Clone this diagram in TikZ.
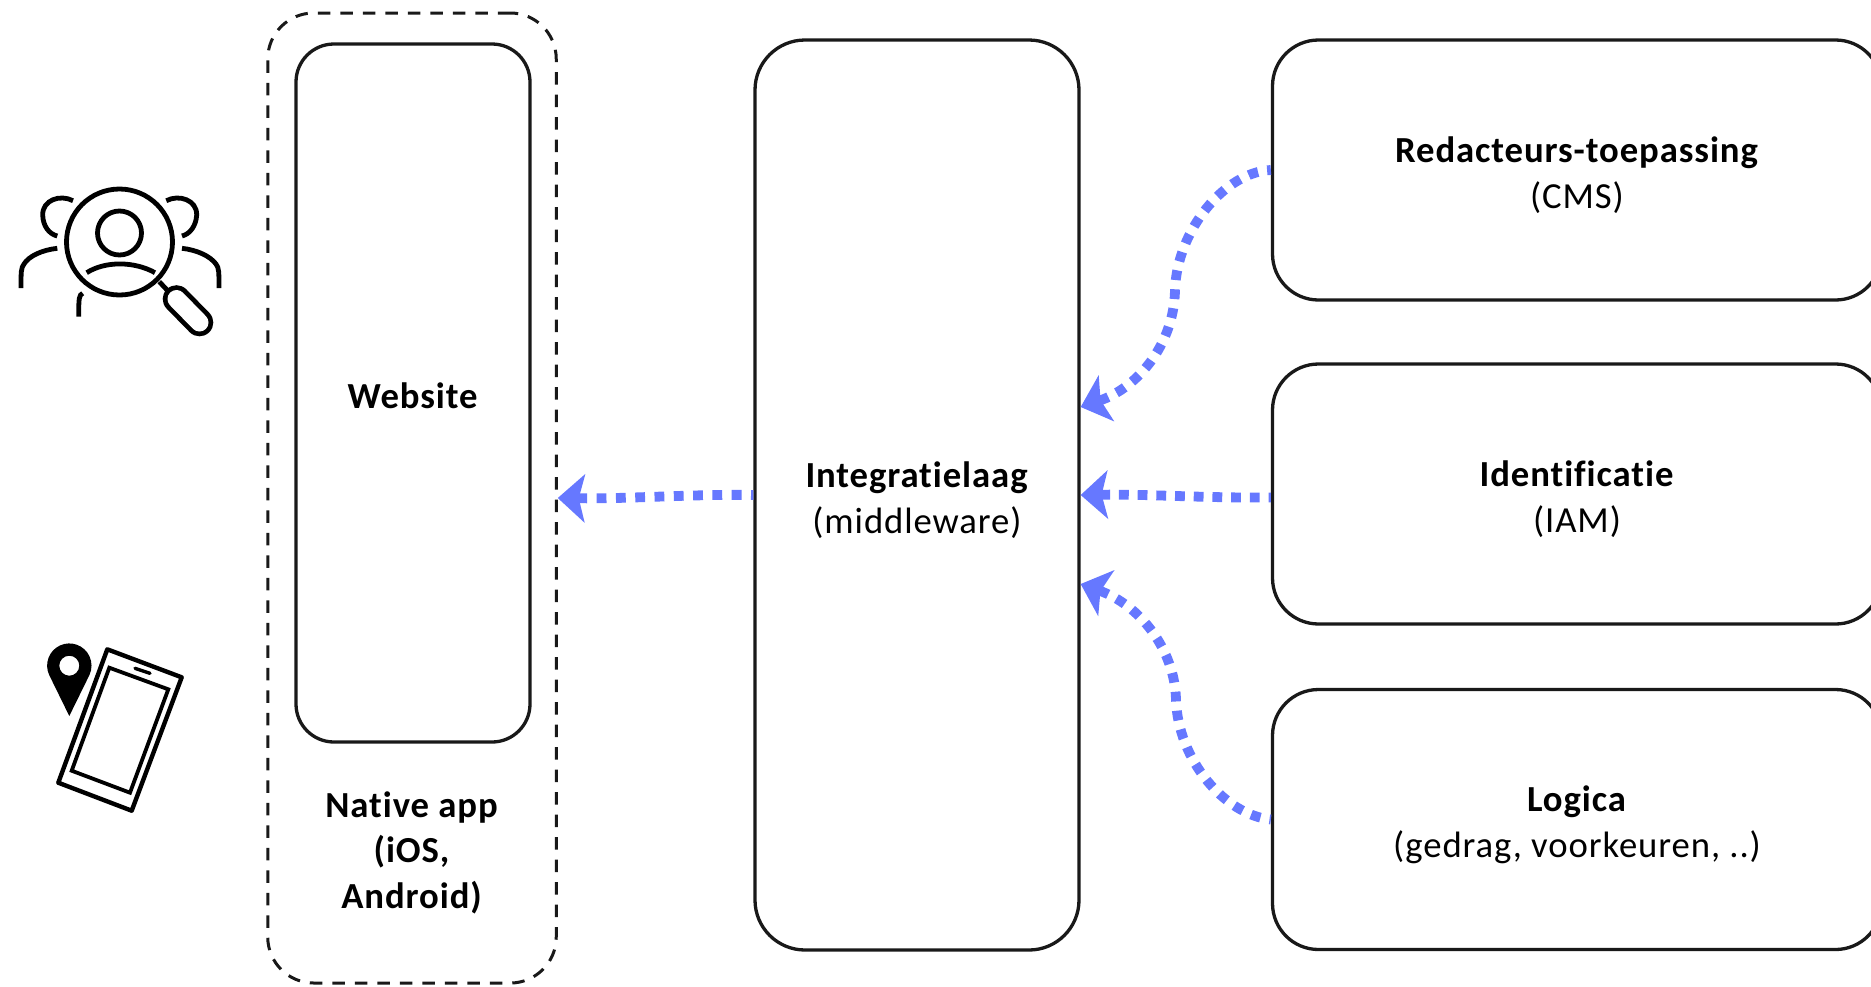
\documentclass[tikz,border=0pt]{standalone}
\usepackage{fontspec}
\setmainfont[LetterSpace=2.5,Ligatures=NoCommon]{Carlito}
\usetikzlibrary{arrows.meta,calc}
\definecolor{flow}{HTML}{6678FF}
\newcommand{\lift}[1]{\rule{0pt}{#1pt}}
\tikzset{
  box/.style={draw=black!90,line width=3.3pt,rounded corners=#1,inner sep=0pt,align=center,font=\fontsize{36.7}{45.5}\selectfont},
  box/.default=48pt,
  label text/.style={align=center,inner sep=0pt,font=\fontsize{36.7}{45.5}\selectfont},
  flowline/.style={draw=flow,line width=9.8pt,dash pattern=on 9.8pt off #1pt,{Stealth[length=27pt,width=48pt,inset=6pt]}-},
  icon/.style={draw=black,line width=4.8pt,fill=none},
}
\begin{document}
\begin{tikzpicture}[x=1pt,y=-1pt]
\useasboundingbox (0,0) rectangle (1871,986);
\clip (0,0) rectangle (1871,986);
% boxes
\node[box=46pt,dash pattern=on 12.5pt off 10pt,line width=3pt,minimum width=288.5pt,minimum height=970pt] (app) at (412,498) {};
\node[box=38pt,minimum width=234pt,minimum height=698pt] (web) at (413,393) {\lift{31}\textbf{Website}};
\node[label text] (nativeapp) at (412,852.4) {\textbf{Native app}\\\textbf{(iOS,}\\\textbf{Android)}};
\node[box=50pt,minimum width=324pt,minimum height=910pt] (mid) at (917,495) {\lift{36}\textbf{Integratielaag}\\(middleware)};
\node[box=46pt,minimum width=609pt,minimum height=260pt] (cms) at (1577,170) {\lift{36}\textbf{Redacteurs-toepassing}\\(CMS)};
\node[box=46pt,minimum width=609pt,minimum height=260pt] (iam) at (1577,494) {\lift{36}\textbf{Identificatie}\\(IAM)};
\node[box=46pt,minimum width=609pt,minimum height=260pt] (logic) at (1577,819.5) {\lift{36}\textbf{Logica}\\(gedrag, voorkeuren, ..)};
% connector ends
\coordinate (midtop) at ($(mid.east)+(0,-88)$);
\coordinate (midbot) at ($(mid.east)+(0,89)$);
\coordinate (iamout) at ($(iam.west)+(0,3.5)$);
% connectors
\path[flowline=9.25] (midtop) .. controls (1137,388) and (1174,345) .. (1175,290) .. controls (1177,230) and (1225,172) .. (cms.west);
\path[flowline=8.9] (mid.east) .. controls (1150,494) and (1200,498) .. (iamout);
\path[flowline=9.25] (midbot) .. controls (1140,605) and (1175,650) .. (1176,700) .. controls (1178,760) and (1225,815) .. (logic.west);
\path[flowline=9.5] (app.east) .. controls (630,499) and (690,494) .. (mid.west);
% person search icon
\draw[icon] (119.5,242) circle[radius=53];
\draw[icon] (119.5,233) circle[radius=22];
\draw[icon] (86.7,272.7) .. controls (105,261) and (134,261) .. (155,272.7);
\draw[icon] (73,200.7) .. controls (60,194) and (42.5,200) .. (42.7,215) .. controls (43,226) and (49,234) .. (57.3,236);
\draw[icon] (166.3,200.7) .. controls (179,194) and (197,200) .. (196.7,215) .. controls (196,226) and (190,234) .. (182,236);
\draw[icon] (57.3,248.3) .. controls (42,250) and (29,256) .. (24,264) .. controls (21,268) and (21,272) .. (21,288);
\draw[icon] (182,248.3) .. controls (197,250) and (210,256) .. (216,264) .. controls (219,268) and (219,272) .. (219,288);
\draw[icon] (82.7,293.3) .. controls (79,295) and (78.7,298) .. (78.7,316.7);
\draw[icon] (159.3,281.7) -- (168,291);
\draw[line width=4.8pt,double=white,double distance=18pt,line cap=round] (176.5,299) -- (199.5,322.5);
% phone and pin
\draw[icon,line join=round,line width=4.4pt] (107.3,649.3) -- (181.7,677.3) -- (131.7,810.7) -- (58.3,782.7) -- cycle;
\draw[icon,line width=3.8pt] (109.3,667.7) -- (168.3,689.3) -- (130,792.7) -- (71.7,770.7) -- cycle;
\draw[icon,line width=3.4pt,line cap=round] (135,668.3) -- (150,673.3);
\fill[black,even odd rule] (69.3,716) -- (49.2,675) arc[start angle=155,end angle=385,radius=22.2] -- cycle (69.3,665.7) circle[radius=10];
\end{tikzpicture}
\end{document}
